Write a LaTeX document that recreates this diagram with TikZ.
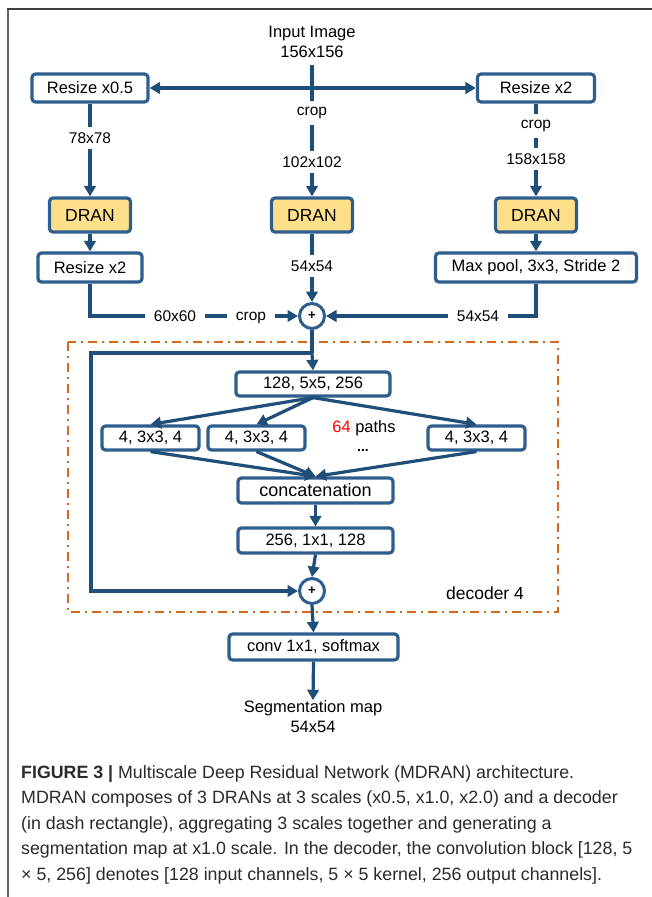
\documentclass[tikz,border=0pt]{standalone}
\usepackage{fontspec}
\setmainfont{Liberation Sans}
\usetikzlibrary{arrows.meta,positioning}
\definecolor{boxc}{HTML}{2E5E8E}
\definecolor{arrc}{HTML}{1F4E79}
\definecolor{dranfill}{HTML}{FFE08A}
\definecolor{orng}{HTML}{D2691E}
\definecolor{capc}{HTML}{2A2A2A}
\tikzset{
  blk/.style={draw=boxc, line width=3.2pt, rounded corners=3.5pt, fill=white, inner sep=0pt, font=\fontsize{16.5}{18}\selectfont},
  dran/.style={blk, fill=dranfill, minimum width=81pt, minimum height=34pt, font=\fontsize{17.5}{19}\selectfont},
  pbox/.style={blk, minimum width=97pt, minimum height=24pt},
  lbl/.style={fill=white, inner xsep=9pt, inner ysep=6pt, font=\fontsize{15.5}{17}\selectfont},
  plain/.style={inner sep=0pt, font=\fontsize{16.5}{20}\selectfont, align=center},
  sumc/.style={circle, draw=boxc, line width=3pt, fill=white, inner sep=0pt, minimum size=25pt, font=\bfseries\fontsize{13}{13}\selectfont},
  ln/.style={draw=arrc, line width=3.2pt},
  arr/.style={ln, -{Triangle[length=10.5pt,width=11.5pt]}},
}
\begin{document}
\begin{tikzpicture}[x=1pt,y=-1pt]
\useasboundingbox (0,0) rectangle (652,897);
% frame
\draw[color=black!60, line width=2pt] (7.5,897) -- (7.5,8.5);
\draw[color=black!75, line width=2pt] (6.5,8.5) -- (652,8.5);
% nodes
\node[plain] (inp) at (312,42) {Input Image\\156x156};
\coordinate (inb) at (312,65);
\node[blk, minimum width=116pt, minimum height=28pt] (rx05) at (90,88) {Resize x0.5};
\node[blk, minimum width=117pt, minimum height=28pt] (rx2r) at (536,88) {Resize x2};
\node[dran] (dL) at (90,215) {DRAN};
\node[dran] (dC) at (312,215) {DRAN};
\node[dran] (dR) at (536,215) {DRAN};
\node[blk, minimum width=104pt, minimum height=29pt] (rs2) at (90,267.5) {Resize x2};
\node[blk, minimum width=201pt, minimum height=29pt] (mp) at (536,267.5) {Max pool, 3x3, Stride 2};
\node[sumc] (s1) at (312,316) {+};
\coordinate (j) at (312,353);
\coordinate (jl) at (91,353);
\coordinate (bl) at (91,591);
\coordinate (cl) at (90,316);
\coordinate (cr) at (536,316);
\node[blk, minimum width=154pt, minimum height=24pt] (c128) at (313,384) {128, 5x5, 256};
\node[pbox] (p1) at (150.5,438) {4, 3x3, 4};
\node[pbox] (p2) at (256.5,438) {4, 3x3, 4};
\node[pbox] (p3) at (476.5,438) {4, 3x3, 4};
\node[inner sep=0pt, font=\fontsize{16.5}{18}\selectfont] (paths) at (364,428) {\textcolor{red}{64} paths};
\node[inner sep=0pt, font=\bfseries\fontsize{14}{14}\selectfont] (dots) at (363,450) {...};
\node[blk, minimum width=155pt, minimum height=25pt, font=\fontsize{18}{19}\selectfont] (cat) at (315.5,490.5) {concatenation};
\node[blk, minimum width=155pt, minimum height=25pt] (c256) at (315.5,540.5) {256, 1x1, 128};
\node[sumc] (s2) at (312,591) {+};
\node[inner sep=0pt, font=\fontsize{17.5}{19}\selectfont] (dec) at (485,593) {decoder 4};
\node[blk, minimum width=169pt, minimum height=26pt] (conv) at (313.5,647) {conv 1x1, softmax};
\node[plain] (seg) at (313,716.5) {Segmentation map\\54x54};
% decoder box
\draw[orng, line width=2pt, dash pattern=on 9pt off 5pt on 2pt off 5pt] (68,342) rectangle (558,612);
% connectors
\draw[arr] (inb) -- (dC.north);
\draw[ln, {Triangle[length=10.5pt,width=11.5pt]}-{Triangle[length=10.5pt,width=11.5pt]}] (rx05.east) -- (rx2r.west);
\draw[arr] (rx05.south) -- (dL.north);
\draw[arr] (rx2r.south) -- (dR.north);
\draw[arr] (dL.south) -- (rs2.north);
\draw[arr] (dR.south) -- (mp.north);
\draw[arr] (dC.south) -- (s1.north);
\draw[arr] (rs2.south) -- (cl) -- (s1.west);
\draw[arr] (mp.south) -- (cr) -- (s1.east);
\draw[ln] (s1.south) -- (j);
\draw[arr] (j) -- (c128.north);
\draw[arr] (j) -- (jl) -- (bl) -- (s2.west);
\draw[arr] (c128.south) -- (p1.north);
\draw[arr] (c128.south) -- (p2.north);
\draw[arr] (c128.south) -- (p3.north);
\draw[arr] (p1.south) -- (cat.north);
\draw[arr] (p2.south) -- (cat.north);
\draw[arr] (p3.south) -- (cat.north);
\draw[arr] (cat.south) -- (c256.north);
\draw[arr] (c256.south) -- (s2.north);
\draw[arr] (s2.south) -- (conv.north);
\draw[arr] (conv.south) -- (seg.north);
% labels on connectors
\node[lbl] (lcrop1) at (312,113) {crop};
\node[lbl] (l102) at (312,162) {102x102};
\node[lbl] (l78) at (90,138) {78x78};
\node[lbl] (lcrop2) at (536,126) {crop};
\node[lbl] (l158) at (536,159) {158x158};
\node[lbl] (l54c) at (312,266) {54x54};
\node[lbl] (l60) at (175,316) {60x60};
\node[lbl] (lcrop3) at (251,318) {crop};
\node[lbl] (l54r) at (478,316) {54x54};
% caption
\node[anchor=north west, inner sep=0pt, align=left, text=capc, font=\fontsize{17.8}{25.5}\selectfont] (cap) at (21,765)
{\textbf{FIGURE 3 |} Multiscale Deep Residual Network (MDRAN) architecture.\\
MDRAN composes of 3 DRANs at 3 scales (x0.5, x1.0, x2.0) and a decoder\\
(in dash rectangle), aggregating 3 scales together and generating a\\
segmentation map at x1.0 scale. In the decoder, the convolution block [128, 5\\
× 5, 256] denotes [128 input channels, 5 × 5 kernel, 256 output channels].};
\end{tikzpicture}
\end{document}
